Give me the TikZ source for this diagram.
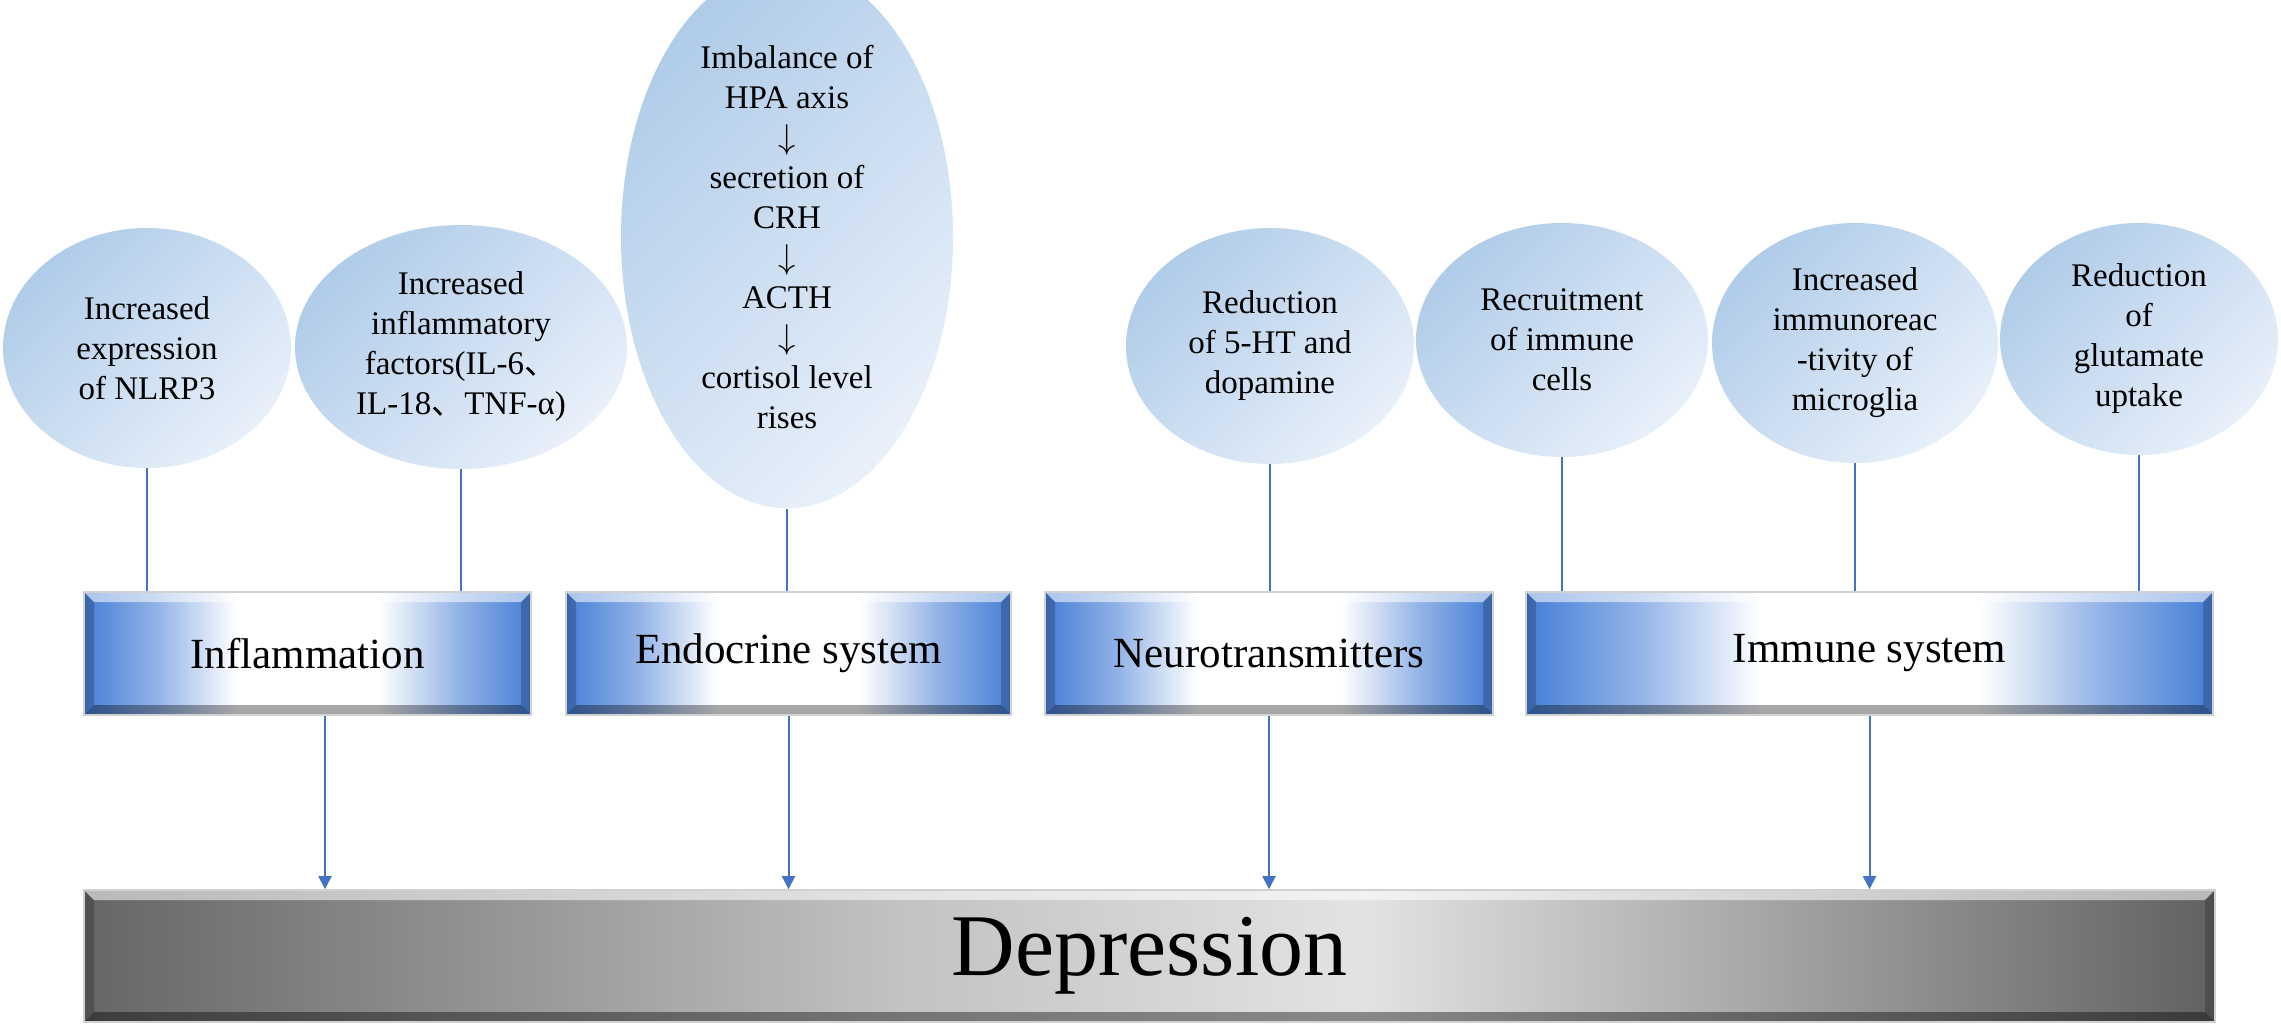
\documentclass[tikz,border=0pt]{standalone}
\usepackage{fontspec}
\setmainfont{Liberation Serif}
\newfontfamily\timesfont{Liberation Serif}
\newfontfamily\cjk{Noto Sans CJK SC}
\usepackage{tikz}
\usetikzlibrary{shapes.geometric,arrows.meta,calc}

\definecolor{elltop}{RGB}{176,204,233}
\definecolor{ellbot}{RGB}{232,240,250}
\definecolor{boxblue}{RGB}{70,126,214}
\definecolor{linkblue}{RGB}{68,114,196}

\pgfdeclarehorizontalshading{sysshade}{100bp}{color(0bp)=(boxblue); color(25bp)=(boxblue); color(33bp)=(boxblue!60!white); color(42bp)=(white); color(58bp)=(white); color(67bp)=(boxblue!60!white); color(75bp)=(boxblue); color(100bp)=(boxblue)}
\pgfdeclarehorizontalshading{depshade}{100bp}{color(0bp)=(black!60); color(25bp)=(black!60); color(44bp)=(black!24); color(55bp)=(black!11); color(75bp)=(black!62); color(100bp)=(black!62)}

% bevelled edges of a box, #1 = inset, #2 = darkness of the bottom
\newcommand{\bevel}[2]{
	\coordinate (bnw) at (path picture bounding box.north west);
	\coordinate (bne) at (path picture bounding box.north east);
	\coordinate (bsw) at (path picture bounding box.south west);
	\coordinate (bse) at (path picture bounding box.south east);
	\fill[white,opacity=.55] (bnw) -- (bne) -- ([shift={(-#1,-#1)}]bne) -- ([shift={(#1,-#1)}]bnw) -- cycle;
	\fill[black,opacity=#2] (bsw) -- (bse) -- ([shift={(-#1,#1)}]bse) -- ([shift={(#1,#1)}]bsw) -- cycle;
	\fill[black,opacity=.2] (bnw) -- ([shift={(#1,-#1)}]bnw) -- ([shift={(#1,#1)}]bsw) -- (bsw) -- cycle;
	\fill[black,opacity=.2] (bne) -- ([shift={(-#1,-#1)}]bne) -- ([shift={(-#1,#1)}]bse) -- (bse) -- cycle;
}

\tikzset{
	cause/.style={ellipse, inner sep=0pt, top color=elltop, bottom color=ellbot, shading angle=45, align=center, font=\timesfont\fontsize{16.5}{20}\selectfont},
	sysbox/.style={rectangle, inner sep=0pt, minimum height=61.5pt, shade, shading=sysshade, draw=black!18, line width=.8pt, font=\timesfont\fontsize{21.5}{26}\selectfont, path picture={\bevel{5pt}{.35}}},
	depbox/.style={rectangle, inner sep=0pt, minimum width=1065.5pt, minimum height=66pt, shade, shading=depshade, draw=black!18, line width=.8pt, font=\timesfont\fontsize{44}{50}\selectfont, path picture={\bevel{5pt}{.4}}},
	link/.style={linkblue, line width=1pt},
}

\begin{document}
\begin{tikzpicture}[x=.5pt, y=-.5pt, >={Triangle[width=6.5pt,length=6.5pt]}]
		\useasboundingbox (0,0) rectangle (2281,1026);

		% causes
		\node[cause, minimum width=144pt, minimum height=120pt] (nlrp) at (147,348) {Increased\\expression\\of NLRP3};
		\node[cause, minimum width=166pt, minimum height=122pt] (factors) at (461,347) {Increased\\inflammatory\\factors(IL-6{\cjk 、}\\IL-18{\cjk 、}TNF-α)};
		\node[cause, minimum width=166pt, minimum height=234pt] (hpa) at (787,237) {Imbalance of\\HPA axis\\$\downarrow$\\secretion of\\CRH\\$\downarrow$\\ACTH\\$\downarrow$\\cortisol level\\rises};
		\node[cause, minimum width=144pt, minimum height=118pt] (serot) at (1270,346) {Reduction\\of 5-HT and\\dopamine};
		\node[cause, minimum width=146pt, minimum height=117pt] (recruit) at (1562,340) {Recruitment\\of immune\\cells};
		\node[cause, minimum width=143pt, minimum height=120pt] (microg) at (1855,343) {Increased\\immunoreac\\-tivity of\\microglia};
		\node[cause, minimum width=139pt, minimum height=116pt] (glut) at (2139,339) {Reduction\\of\\glutamate\\uptake};

		% systems
		\node[sysbox, minimum width=223.5pt] (infl) at (307.5,653.5) {Inflammation};
		\node[sysbox, minimum width=222.5pt] (endo) at (788.5,653.5) {Endocrine system};
		\node[sysbox, minimum width=224pt] (neuro) at (1269,653.5) {Neurotransmitters};
		\node[sysbox, minimum width=343.5pt] (immune) at (1869.5,653.5) {Immune system};

		\node[depbox] (dep) at (1149.5,956) {Depression};

		\path[link]
			(nlrp.south) edge (nlrp.south |- infl.north)
			(factors.south) edge (factors.south |- infl.north)
			(hpa.south) edge (hpa.south |- endo.north)
			(serot.south) edge (serot.south |- neuro.north)
			(recruit.south) edge (recruit.south |- immune.north)
			(microg.south) edge (microg.south |- immune.north)
			(glut.south) edge (glut.south |- immune.north)
		;
		\path[link,->]
			([xshift=8.75pt]infl.south) edge ([xshift=8.75pt]infl.south |- dep.north)
			(endo.south) edge (endo.south |- dep.north)
			(neuro.south) edge (neuro.south |- dep.north)
			(immune.south) edge (immune.south |- dep.north)
		;
	\end{tikzpicture}
\end{document}
